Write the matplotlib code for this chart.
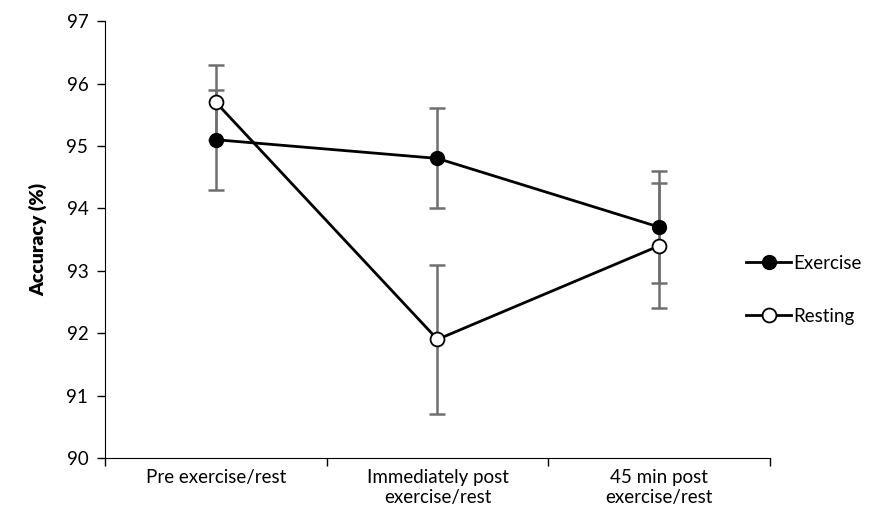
import numpy as np
import matplotlib
matplotlib.use("Agg")
from matplotlib import pyplot as plt

plt.rcParams['font.family'] = ['Lato', 'DejaVu Sans']

labels = ["Pre exercise/rest", "Immediately post\nexercise/rest", "45 min post\nexercise/rest"]
exercise = [95.1, 94.8, 93.7]
exercise_err = [0.8, 0.8, 0.9]
resting = [95.7, 91.9, 93.4]
resting_err = [0.6, 1.2, 1.0]

x = np.arange(len(labels))

fig = plt.figure(figsize=(8.85, 5.28), dpi=100)
ax = fig.add_axes([0.1186, 0.1326, 0.7514, 0.8274])

ecol = "#6f6f6f"
ax.errorbar(x, resting, yerr=resting_err, fmt='none', ecolor=ecol, elinewidth=1.8, capsize=6, capthick=1.8, zorder=1)
ax.errorbar(x, exercise, yerr=exercise_err, fmt='none', ecolor=ecol, elinewidth=1.8, capsize=6, capthick=1.8, zorder=1)
ax.plot(x, exercise, color='black', lw=2, marker='o', ms=10, mfc='black', mec='black', label='Exercise', zorder=3)
ax.plot(x, resting, color='black', lw=2, marker='o', ms=10, mfc='white', mec='black', mew=1.3, label='Resting', zorder=3)

ax.set_xlim(-0.5, 2.5)
ax.set_ylim(90, 97)
ax.set_yticks(range(90, 98))
ax.set_xticks(x)
ax.set_xticklabels(labels, fontsize=13.5)
ax.set_xticks([-0.5, 0.5, 1.5, 2.5], minor=True)
ax.tick_params(axis='x', which='major', length=0, pad=8)
ax.tick_params(axis='x', which='minor', length=6, width=1)
ax.tick_params(axis='y', labelsize=13.5, length=6, width=1, pad=6)
ax.set_ylabel("Accuracy (%)", fontsize=14, fontweight='heavy', labelpad=14)
for s in ['top', 'right']:
    ax.spines[s].set_visible(False)

ax.legend(loc='center left', bbox_to_anchor=(0.953, 0.385), frameon=False, fontsize=13.5,
          handlelength=2.4, handletextpad=0.1, labelspacing=1.9, borderaxespad=0)

fig.savefig("out.png", dpi=100)
